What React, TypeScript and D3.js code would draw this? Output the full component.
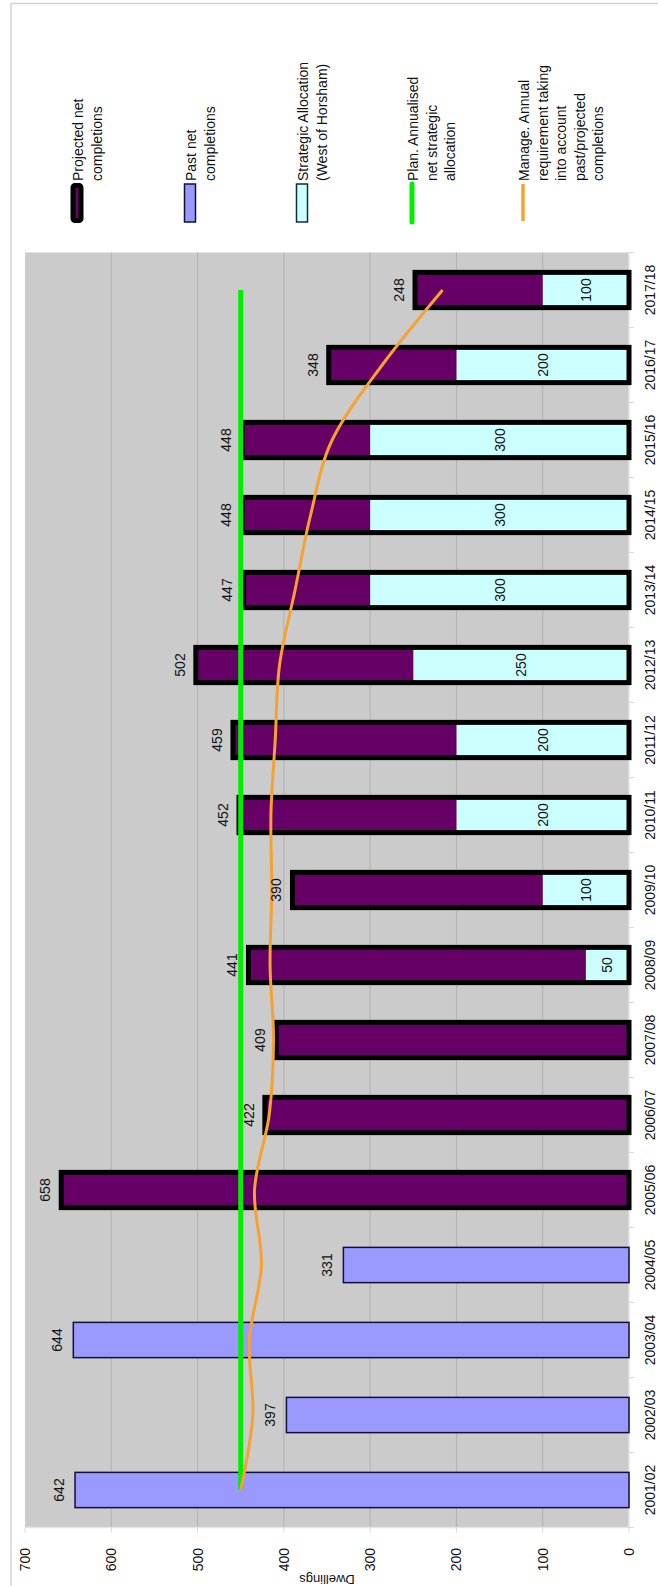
import React from 'react';
import { scaleLinear, scaleBand, line, curveCardinal, stack } from 'd3';

const categories = [
	'2001/02', '2002/03', '2003/04', '2004/05', '2005/06', '2006/07', '2007/08', '2008/09', '2009/10',
	'2010/11', '2011/12', '2012/13', '2013/14', '2014/15', '2015/16', '2016/17', '2017/18',
];
// past completions (only first four years)
const pastNet = [642, 397, 644, 331, 0, 0, 0, 0, 0, 0, 0, 0, 0, 0, 0, 0, 0];
// strategic allocation, drawn from the base of the bar
const strategic = [0, 0, 0, 0, 0, 0, 0, 50, 100, 200, 200, 250, 300, 300, 300, 200, 100];
// projected net completions on top of the strategic part
const projectedNet = [0, 0, 0, 0, 658, 422, 409, 391, 290, 252, 259, 252, 147, 148, 148, 148, 148];
const planLine = [450, 450, 450, 450, 450, 450, 450, 450, 450, 450, 450, 450, 450, 450, 450, 450, 450];
const manageLine = [450, 436, 440, 426, 434, 417, 412, 416, 414, 415, 410, 405, 387, 369, 344, 286, 216];
const valueTicks = [0, 100, 200, 300, 400, 500, 600, 700];

const legendItems = [
	{ key: 'proj', lines: ['Projected net', 'completions'], x: 77 },
	{ key: 'past', lines: ['Past net', 'completions'], x: 190 },
	{ key: 'strat', lines: ['Strategic  Allocation', '(West of Horsham)'], x: 302 },
	{ key: 'plan', lines: ['Plan. Annualised', 'net strategic', 'allocation'], x: 412 },
	{ key: 'manage', lines: ['Manage. Annual', 'requirement taking', 'into account', 'past/projected', 'completions'], x: 523 },
];

const PURPLE = '#660066';
const PAST = '#9999ff';
const CYAN = '#ccffff';
const GREEN = '#00ee00';
const ORANGE = '#f7a12e';
const FONT = 'Liberation Sans, Arial, sans-serif';

export default function App() {
	const W = 658;
	const H = 1586;
	const plotLeft = 25;
	const plotRight = 629;
	const plotTop = 252.5;
	const plotBottom = 1527.5;

	const x = scaleLinear().domain([0, 700]).range([plotRight, plotLeft]);
	const y = scaleBand<string>()
		.domain(categories)
		.range([plotBottom, plotTop])
		.paddingInner(0.53)
		.paddingOuter(0.265);
	const bw = y.bandwidth();
	const cy = (c: string) => (y(c) as number) + bw / 2;

	const rows = categories.map((c, i) => ({ cat: c, strategic: strategic[i], projected: projectedNet[i] }));
	const stacked = stack<any>().keys(['strategic', 'projected'])(rows);

	const lineGen = line<number>()
		.x((d) => x(d))
		.y((_, i) => cy(categories[i]))
		.curve(curveCardinal.tension(0));

	return (
		<svg width={W} height={H} style={{ position: 'absolute', left: 0, top: 0, background: '#fff' }} fontFamily={FONT}>
			{/* outer frame */}
			<rect x={11} y={3.5} width={700} height={1700} fill="none" stroke="#d4d4d4" strokeWidth={1.5} />

			{/* plot area */}
			<rect x={plotLeft} y={plotTop} width={plotRight - plotLeft} height={plotBottom - plotTop} fill="#cbcbcb" />
			{valueTicks.filter((v) => v > 0 && v < 700).map((v) => (
				<line key={v} x1={x(v)} x2={x(v)} y1={plotTop} y2={plotBottom} stroke="#b2b2b2" strokeWidth={1} />
			))}

			{/* axes */}
			<line x1={plotRight} x2={plotRight} y1={plotTop} y2={plotBottom} stroke="#e4e4e4" strokeWidth={1.5} />
			{categories.map((c, i) => {
				const yy = plotBottom - i * y.step();
				return <line key={c} x1={plotRight} x2={plotRight + 5} y1={yy} y2={yy} stroke="#d8d8d8" />;
			})}
			<line x1={plotRight} x2={plotRight + 5} y1={plotTop} y2={plotTop} stroke="#d8d8d8" />
			<line x1={plotLeft} x2={plotRight} y1={plotBottom} y2={plotBottom} stroke="#e4e4e4" strokeWidth={1.5} />
			{valueTicks.map((v) => (
				<line key={v} x1={x(v)} x2={x(v)} y1={plotBottom} y2={plotBottom + 5} stroke="#d8d8d8" />
			))}

			{/* past bars */}
			{categories.map((c, i) =>
				pastNet[i] > 0 ? (
					<rect key={c} x={x(pastNet[i])} y={y(c)} width={x(0) - x(pastNet[i])} height={bw} fill={PAST} stroke="#10103a" strokeWidth={1.5} />
				) : null,
			)}

			{/* stacked strategic + projected */}
			{stacked.map((s) => (
				<g key={s.key}>
					{s.map((d: any, i: number) =>
						d[1] - d[0] > 0 ? (
							<rect key={i} x={x(d[1])} y={y(categories[i])} width={x(d[0]) - x(d[1])} height={bw} fill={s.key === 'strategic' ? CYAN : PURPLE} />
						) : null,
					)}
				</g>
			))}
			{categories.map((c, i) => {
				const total = strategic[i] + projectedNet[i];
				if (!total) return null;
				return <rect key={c} x={x(total)} y={y(c)} width={x(0) - x(total)} height={bw} fill="none" stroke="#000" strokeWidth={5} />;
			})}

			{/* strategic labels */}
			{categories.map((c, i) =>
				strategic[i] > 0 ? (
					<text key={c} transform={`translate(${(x(0) + x(strategic[i])) / 2},${cy(c)}) rotate(-90)`} textAnchor="middle" dominantBaseline="central" fontSize={14} fill="#111">
						{strategic[i]}
					</text>
				) : null,
			)}

			{/* plan + manage lines */}
			<path d={lineGen(planLine) || ''} fill="none" stroke={GREEN} strokeWidth={5} />
			<path d={lineGen(manageLine) || ''} fill="none" stroke={ORANGE} strokeWidth={3} />

			{/* total labels */}
			{categories.map((c, i) => {
				const total = pastNet[i] + strategic[i] + projectedNet[i];
				return (
					<text key={c} transform={`translate(${x(total) - 16},${cy(c)}) rotate(-90)`} textAnchor="middle" dominantBaseline="central" fontSize={14} fill="#111">
						{total}
					</text>
				);
			})}

			{/* category labels */}
			{categories.map((c) => (
				<text key={c} transform={`translate(650,${cy(c)}) rotate(-90)`} textAnchor="middle" dominantBaseline="central" fontSize={14} fill="#111">
					{c}
				</text>
			))}

			{/* value ticks */}
			{valueTicks.map((v) => (
				<text key={v} transform={`translate(${x(v)},1548) rotate(-90)`} textAnchor="end" dominantBaseline="central" fontSize={14} fill="#111">
					{v}
				</text>
			))}
			<text transform={`translate(${x(350)},1579) rotate(180)`} textAnchor="middle" dominantBaseline="central" fontSize={13} fill="#111">
				Dwellings
			</text>

			{/* legend */}
			{legendItems.map((it) => (
				<g key={it.key}>
					{it.key === 'proj' && <rect x={it.x - 4} y={185.5} width={8} height={35} fill={PURPLE} stroke="#000" strokeWidth={5} rx={2} />}
					{it.key === 'past' && <rect x={it.x - 5.5} y={184} width={11} height={38} fill={PAST} stroke="#10103a" strokeWidth={1.5} />}
					{it.key === 'strat' && <rect x={it.x - 5.5} y={184} width={11} height={38} fill={CYAN} stroke="#103030" strokeWidth={1.5} />}
					{it.key === 'plan' && <line x1={it.x} x2={it.x} y1={184} y2={222} stroke={GREEN} strokeWidth={5} strokeLinecap="round" />}
					{it.key === 'manage' && <line x1={it.x} x2={it.x} y1={184} y2={221} stroke={ORANGE} strokeWidth={3.5} />}
					{it.lines.map((l, j) => (
						<text key={j} transform={`translate(${it.x + 1 + j * 18.5},181) rotate(-90)`} textAnchor="start" dominantBaseline="central" fontSize={14} fill="#111">
							{l}
						</text>
					))}
				</g>
			))}
		</svg>
	);
}
